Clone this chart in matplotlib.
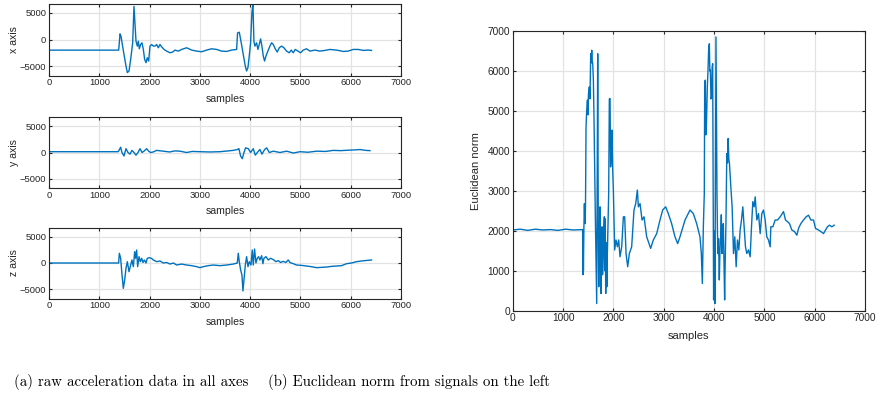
import matplotlib
matplotlib.use("Agg")
import matplotlib.pyplot as plt

# -----------------------------
# Data
# -----------------------------
X_SAMPLES = [0, 1385, 1392, 1412, 1432, 1458, 1491, 1531, 1558, 1591, 1624, 1664, 1690,
             1730, 1756, 1776, 1796, 1822, 1849, 1876, 1902, 1929, 1955, 1982, 2008,
             2041, 2075, 2108, 2141, 2174, 2207, 2240, 2287, 2340, 2406, 2459, 2505,
             2572, 2638, 2737, 2837, 2936, 3035, 3135, 3234, 3334, 3433, 3533, 3632,
             3731, 3750, 3784, 3817, 3863, 3903, 3929, 3956, 3982, 4009, 4035, 4055,
             4075, 4095, 4128, 4155, 4181, 4208, 4234, 4261, 4287, 4314, 4353, 4393,
             4426, 4460, 4499, 4539, 4579, 4625, 4672, 4725, 4778, 4817, 4857, 4897,
             4950, 5003, 5056, 5122, 5188, 5288, 5387, 5487, 5586, 5719, 5851, 5950,
             6050, 6149, 6249, 6348, 6414]
X_VALUES = [-1980, -1980, -1300, 1050, 620, -930, -2770, -4930, -6160, -5860, -3700, -620, 6170,
            -310, -1230, -310, -1730, -930, -620, -1850, -3700, -4320, -3390, -4010, -1230,
            -930, -1230, -1230, -930, -1540, -930, -1360, -1850, -2160, -2470, -2340, -1970,
            -2160, -1850, -1540, -1970, -2160, -2280, -1970, -1730, -1850, -2160, -2220, -1970,
            -1850, 1230, 1350, -310, -2770, -4930, -5860, -5240, -3080, -620, 4930, 6780,
            -310, -1230, -620, -1850, -930, 120, -1230, -3080, -4010, -3080, -2160, -1230,
            -620, -930, -1730, -2340, -1540, -1230, -1540, -2160, -2470, -1970, -2470, -1850,
            -2160, -2470, -1970, -1730, -2160, -1970, -2160, -2030, -1850, -1970, -2220, -2160,
            -1850, -1850, -2030, -1970, -2030]

Y_SAMPLES = [0, 1378, 1425, 1451, 1491, 1531, 1571, 1611, 1650, 1690, 1730, 1770, 1810,
             1850, 1889, 1942, 1982, 2021, 2074, 2141, 2273, 2400, 2500, 2605, 2737, 2850,
             3002, 3200, 3400, 3665, 3744, 3777, 3810, 3844, 3877, 3910, 3963, 4009, 4062,
             4102, 4142, 4195, 4235, 4288, 4328, 4381, 4461, 4593, 4726, 4859, 4991, 5150,
             5323, 5500, 5654, 5800, 5985, 6100, 6184, 6300, 6383]
Y_VALUES = [150, 150, 1000, 0, -660, 720, 0, -310, 400, 0, -500, 0, 720,
            0, 250, 720, 250, 0, 100, 400, 250, 100, 300, 250, 0, 200,
            150, 100, 150, 400, 560, 720, -660, -1170, 0, 880, 720, 0, 720,
            -500, 0, 560, -310, 560, 880, 0, 250, 0, 250, -100, 150, 50,
            250, 200, 400, 350, 450, 500, 560, 400, 350]

Z_SAMPLES = [0, 1385, 1399, 1425, 1452, 1478, 1505, 1531, 1558, 1591, 1624, 1650, 1677,
             1704, 1723, 1743, 1763, 1790, 1816, 1843, 1869, 1896, 1929, 1955, 1995, 2035,
             2075, 2141, 2207, 2273, 2340, 2406, 2472, 2538, 2638, 2737, 2837, 2936, 3002,
             3069, 3168, 3268, 3400, 3533, 3665, 3744, 3764, 3784, 3811, 3837, 3857, 3877,
             3904, 3930, 3957, 3983, 4016, 4042, 4062, 4088, 4115, 4141, 4168, 4194, 4228,
             4254, 4274, 4314, 4360, 4406, 4460, 4512, 4559, 4605, 4658, 4711, 4758, 4791,
             4857, 4923, 5023, 5122, 5222, 5321, 5420, 5520, 5619, 5719, 5818, 5918, 6017,
             6116, 6216, 6315, 6414]
Z_VALUES = [0, 0, 1830, 890, -2260, -4780, -3210, -1000, 250, -1640, -380, 570, -690,
            2140, 890, 2450, -690, 1200, 250, 890, 100, 570, 0, 890, 1000, 890,
            570, 250, 380, 0, 100, -200, 0, -380, -200, -380, -500, -690, -880,
            -690, -500, -380, -500, -380, -200, 0, 1830, 250, -1320, -2260, -5280, -3210,
            -380, 1200, -690, 250, -380, 2450, -380, 2640, 0, 890, 1200, 570, 1380,
            -130, 890, 1200, 570, 890, 640, 250, 450, 100, 300, 100, 570, 100,
            -130, -380, -450, -570, -700, -880, -820, -760, -640, -570, -500, -130, 0,
            250, 380, 480, 570]

NORM_SAMPLES = [0, 150, 300, 450, 600, 750, 900, 1050, 1200, 1390,
                1395, 1400, 1405, 1415, 1425, 1432, 1440, 1447, 1457, 1470,
                1485, 1495, 1505, 1523, 1535, 1550, 1560, 1570, 1580, 1590,
                1603, 1616, 1643, 1669, 1689, 1700, 1710, 1720, 1735, 1745,
                1755, 1765, 1775, 1785, 1801, 1810, 1821, 1830, 1838, 1848,
                1860, 1870, 1881, 1907, 1920, 1934, 1945, 1954, 1965, 1974,
                1985, 2000, 2026, 2053, 2080, 2106, 2132, 2166, 2199, 2225,
                2252, 2285, 2318, 2364, 2410, 2444, 2477, 2497, 2530, 2570,
                2609, 2662, 2708, 2741, 2794, 2861, 2927, 2980, 3039, 3092,
                3158, 3224, 3278, 3324, 3424, 3523, 3589, 3655, 3721, 3748,
                3768, 3788, 3807, 3815, 3827, 3837, 3847, 3867, 3880, 3893,
                3907, 3917, 3927, 3940, 3953, 3963, 3973, 3992, 4005, 4019,
                4039, 4059, 4068, 4079, 4090, 4105, 4118, 4132, 4145, 4158,
                4170, 4185, 4195, 4211, 4222, 4238, 4254, 4268, 4281, 4294,
                4307, 4334, 4360, 4387, 4413, 4440, 4466, 4493, 4519, 4546,
                4572, 4599, 4625, 4652, 4685, 4718, 4745, 4771, 4798, 4818,
                4851, 4884, 4917, 4950, 4983, 5016, 5049, 5082, 5116, 5129,
                5169, 5215, 5262, 5315, 5381, 5420, 5460, 5500, 5546, 5599,
                5646, 5679, 5725, 5778, 5831, 5878, 5924, 5977, 6017, 6077,
                6123, 6176, 6216, 6255, 6295, 6341, 6388]
NORM_VALUES = [2020, 2040, 2010, 2040, 2020, 2030, 2010, 2040, 2020, 2030,
               900, 1900, 1000, 2100, 2680, 2200, 2180, 2700, 4600, 5010,
               5270, 4900, 5420, 5600, 5300, 6430, 6200, 6520, 6250, 6180,
               5770, 4770, 2270, 180, 6430, 2200, 600, 1800, 2600, 1200,
               430, 1900, 2100, 900, 1430, 2000, 2350, 1000, 2300, 430,
               1700, 600, 1430, 2930, 5300, 5310, 3600, 3770, 4500, 4520,
               3600, 3020, 1520, 1770, 1600, 1770, 1350, 1600, 2350, 2350,
               1430, 1100, 1430, 1600, 2520, 2680, 3020, 2600, 2680, 2270,
               2350, 1850, 1680, 1560, 1770, 1930, 2270, 2520, 2600, 2430,
               2180, 1850, 1680, 1850, 2270, 2520, 2430, 2180, 1850, 1430,
               680, 2100, 2930, 5700, 5770, 4400, 4520, 5600, 6000, 6520,
               6680, 6000, 6020, 5300, 5350, 6100, 6180, 270, 2000, 180,
               6850, 2930, 2000, 1430, 1800, 770, 1500, 1850, 2400, 1430,
               1700, 2180, 1500, 270, 1200, 2270, 3930, 3700, 4310, 3800,
               3680, 3100, 2600, 1430, 1850, 1100, 1770, 1520, 2020, 2270,
               2600, 2100, 1600, 1430, 1520, 1350, 2100, 2730, 2600, 2850,
               2270, 2430, 1930, 2430, 2520, 2270, 1850, 1770, 1600, 2100,
               2100, 2270, 2270, 2350, 2480, 2270, 2230, 2180, 2020, 1980,
               1890, 2060, 2180, 2270, 2350, 2390, 2270, 2270, 2060, 2020,
               1980, 1930, 2020, 2100, 2140, 2100, 2140]

# -----------------------------
# Style
# -----------------------------
LINE_COLOR = "#0072BD"
TEXT_COLOR = "#262626"
GRID_COLOR = "#E3E3E3"

plt.rcParams.update({
    "font.family": "Liberation Sans",
    "axes.edgecolor": TEXT_COLOR,
    "axes.linewidth": 0.8,
    "xtick.color": TEXT_COLOR,
    "ytick.color": TEXT_COLOR,
    "xtick.direction": "in",
    "ytick.direction": "in",
    "xtick.top": True,
    "ytick.right": True,
    "xtick.major.size": 2.5,
    "ytick.major.size": 2.5,
    "xtick.major.width": 0.8,
    "ytick.major.width": 0.8,
})


def style_axes(ax, tick_size, label_size):
    ax.set_xlim(0, 7000)
    ax.set_xticks(range(0, 7001, 1000))
    ax.grid(True, color=GRID_COLOR, linewidth=0.9)
    ax.set_axisbelow(True)
    ax.tick_params(labelsize=tick_size, pad=2)
    ax.xaxis.label.set_size(label_size)
    ax.yaxis.label.set_size(label_size)
    ax.xaxis.label.set_color(TEXT_COLOR)
    ax.yaxis.label.set_color(TEXT_COLOR)


fig = plt.figure(figsize=(8.76, 3.94), dpi=100)
W, H = 876, 394


def add_axes_px(left, top, right, bottom):
    return fig.add_axes([left / W, 1 - bottom / H, (right - left) / W, (bottom - top) / H])


# -----------------------------
# Left: three axes
# -----------------------------
left_specs = [
    (3.5, 75.5, X_SAMPLES, X_VALUES, "x axis"),
    (117, 188, Y_SAMPLES, Y_VALUES, "y axis"),
    (227.5, 298.5, Z_SAMPLES, Z_VALUES, "z axis"),
]
for top, bottom, xs, ys, name in left_specs:
    ax = add_axes_px(49, top, 401, bottom)
    ax.plot(xs, ys, color=LINE_COLOR, linewidth=1.0)
    style_axes(ax, 6.8, 7.6)
    ax.set_ylim(-6700, 6700)
    ax.set_yticks([-5000, 0, 5000])
    ax.set_ylabel(name)
    ax.set_xlabel("samples")
    ax.yaxis.set_label_coords(-0.085, 0.5)
    ax.xaxis.set_label_coords(0.5, -0.26)

# -----------------------------
# Right: Euclidean norm
# -----------------------------
ax = add_axes_px(512.7, 31, 865, 310.7)
ax.plot(NORM_SAMPLES, NORM_VALUES, color=LINE_COLOR, linewidth=1.0)
style_axes(ax, 7.3, 8.0)
ax.set_ylim(0, 7000)
ax.set_yticks(range(0, 7001, 1000))
ax.set_ylabel("Euclidean norm")
ax.set_xlabel("samples")
ax.yaxis.set_label_coords(-0.09, 0.5)
ax.xaxis.set_label_coords(0.5, -0.072)

# -----------------------------
# Captions
# -----------------------------
fig.text(14 / W, 1 - 386 / H, "(a) raw acceleration data in all axes",
         family="cmr10", fontsize=10.7, color="black", va="baseline", ha="left")
fig.text(268 / W, 1 - 386 / H, "(b) Euclidean norm from signals on the left",
         family="cmr10", fontsize=10.7, color="black", va="baseline", ha="left")

fig.savefig("out.png", dpi=100)
